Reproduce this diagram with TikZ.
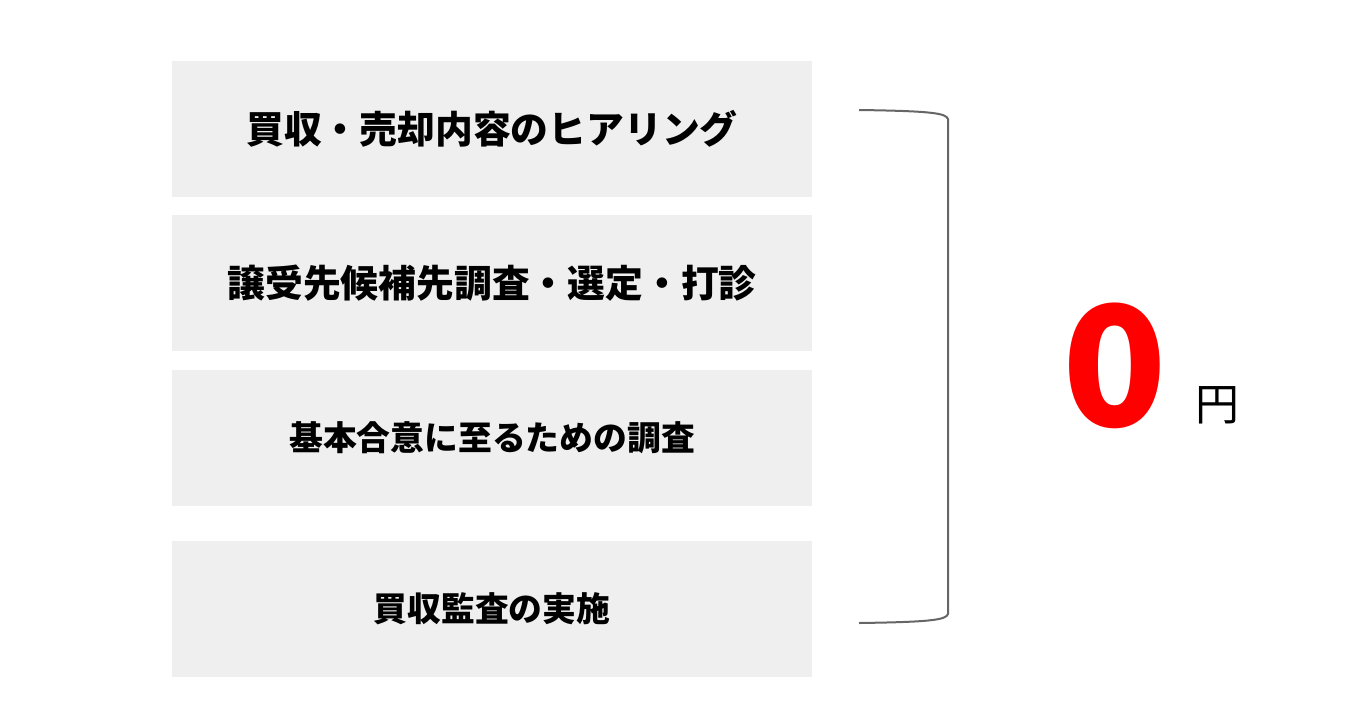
\documentclass[tikz,border=0pt]{standalone}
\usepackage{fontspec}
\usepackage{xcolor}
\usetikzlibrary{positioning,calc}
\newfontfamily\cjk{Noto Sans CJK JP}
\definecolor{boxgray}{HTML}{EFEFEF}
\definecolor{bracegray}{HTML}{666666}
\definecolor{zerored}{HTML}{FF0000}
\tikzset{
  stepbox/.style={fill=boxgray,draw=none,minimum width=640pt,minimum height=136pt,
    inner sep=0pt,font=\cjk\bfseries\fontsize{37.8pt}{40pt}\selectfont},
  smallstep/.style={stepbox,font=\cjk\bfseries\fontsize{33.8pt}{36pt}\selectfont},
}

\begin{document}
\begin{tikzpicture}[x=1pt,y=-1pt]
  \useasboundingbox (0,0) rectangle (1356,724);
  % the four steps
  \node[stepbox] (hearing) at (492,129) {買収・売却内容のヒアリング};
  \node[stepbox] (search) at (492,283) {譲受先候補先調査・選定・打診};
  \node[smallstep] (basic) at (492,438) {基本合意に至るための調査};
  \node[smallstep] (audit) at (492,609) {買収監査の実施};
  % bracket
  \coordinate (btop) at (859,110);
  \coordinate (bbot) at (859,623);
  \draw[bracegray,line width=2pt] (btop) .. controls (930,111) and (946,113) .. (948,119)
    -- (948,614) .. controls (946,620) and (930,622) .. (bbot);
  % price
  \node[text=zerored,font=\cjk\bfseries\fontsize{167pt}{170pt}\selectfont,inner sep=0pt,anchor=base,xscale=1.03]
    (zero) at (1115,426) {0};
  \node[font=\cjk\fontsize{44pt}{46pt}\selectfont,inner sep=0pt,anchor=base] (yen) at (1217,420) {円};
\end{tikzpicture}
\end{document}
